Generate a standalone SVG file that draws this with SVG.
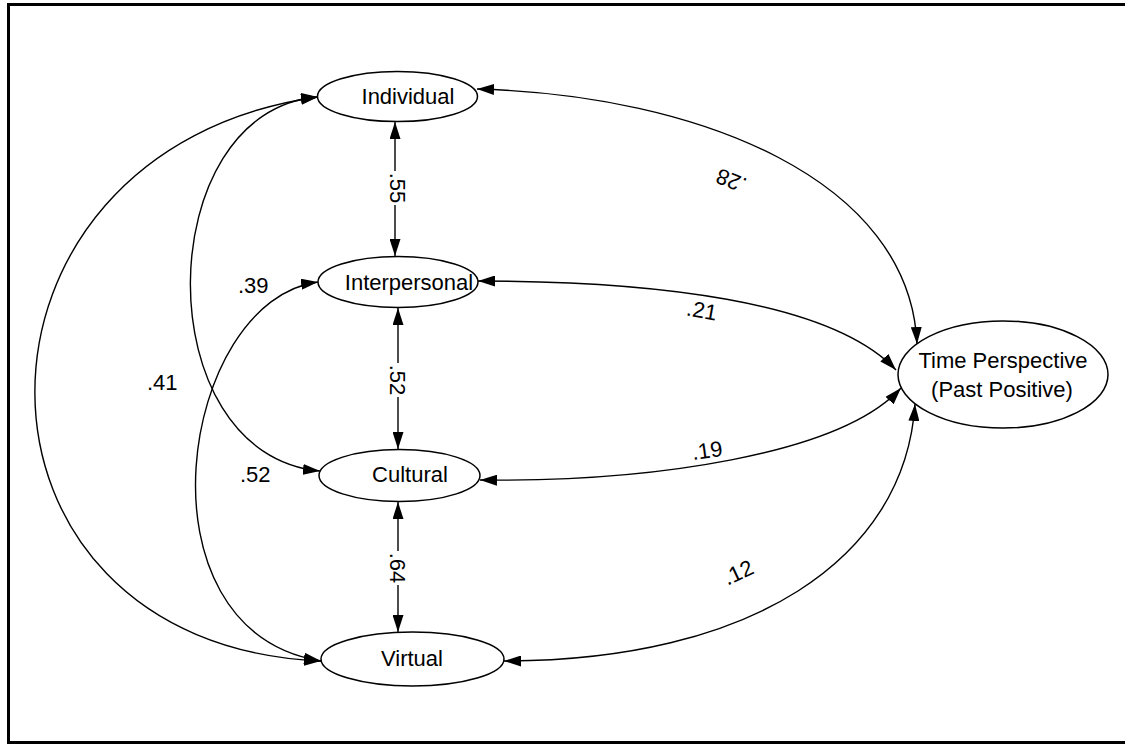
<svg xmlns="http://www.w3.org/2000/svg" width="1125" height="744" viewBox="0 0 1125 744">
<style>
text{font-family:"Liberation Sans",Arial,sans-serif;font-size:22px;fill:#000}
.n ellipse{fill:#fff;stroke:#000;stroke-width:1.5}
.c path{fill:none;stroke:#000;stroke-width:1.4;marker-start:url(#ah);marker-end:url(#ah)}
.m{text-anchor:middle}
.k{fill:#fff;stroke:none}
</style>
<defs>
<marker id="ah" viewBox="0 0 17 11" refX="17" refY="5.5" markerWidth="17" markerHeight="11" markerUnits="userSpaceOnUse" orient="auto-start-reverse"><path d="M0,0 L17,5.5 L0,11 z" fill="#000"/></marker>
</defs>
<rect x="8.5" y="4.5" width="1130" height="738" fill="#fff" stroke="#000" stroke-width="3"/>
<g id="connectors" class="c">
<path d="M395,122 L395,256"/>
<path d="M398,308 L398,449"/>
<path d="M398,502 L398,632"/>
<path d="M477,89 C700,95 910,180 917,344"/>
<path d="M478,281 C650,281 830,300 896,370"/>
<path d="M480,480 C650,482 840,455 901,388"/>
<path d="M504,661 C750,661 905,560 915,404"/>
<path d="M318,97 C150,110 145,455 320,471"/>
<path d="M318,97 C-60,150 -60,645 321,661"/>
<path d="M318,282 C180,300 130,630 321,661"/>
</g>
<g id="labels">
<rect class="k" x="386" y="171" width="22" height="34"/>
<text class="m" transform="translate(390,188) rotate(90)">.55</text>
<rect class="k" x="386" y="363" width="22" height="34"/>
<text class="m" transform="translate(390,380) rotate(90)">.52</text>
<rect class="k" x="386" y="551" width="22" height="34"/>
<text class="m" transform="translate(390,568) rotate(90)">.64</text>
<text class="m" transform="translate(731,181) rotate(202)" y="8">.28</text>
<text class="m" transform="translate(702,310) rotate(10)" y="8">.21</text>
<text class="m" transform="translate(707,450) rotate(-8)" y="8">.19</text>
<text class="m" transform="translate(738,572) rotate(-25)" y="8">.12</text>
<text x="238" y="293">.39</text>
<text x="147" y="390">.41</text>
<text x="240" y="482">.52</text>
</g>
<g id="individual" class="n"><ellipse cx="397.5" cy="96.5" rx="80" ry="25"/><text class="m" x="408" y="104">Individual</text></g>
<g id="interpersonal" class="n"><ellipse cx="398" cy="282" rx="80" ry="25.5"/><text class="m" x="409" y="290">Interpersonal</text></g>
<g id="cultural" class="n"><ellipse cx="399.5" cy="475.5" rx="80.5" ry="26"/><text class="m" x="410" y="482">Cultural</text></g>
<g id="virtual" class="n"><ellipse cx="412.5" cy="659" rx="91.5" ry="27"/><text class="m" x="412" y="666">Virtual</text></g>
<g id="time" class="n"><ellipse cx="1003" cy="374.5" rx="105" ry="53.5"/><text class="m" x="1003" y="368">Time Perspective</text><text class="m" x="1002" y="397">(Past Positive)</text></g>
</svg>
